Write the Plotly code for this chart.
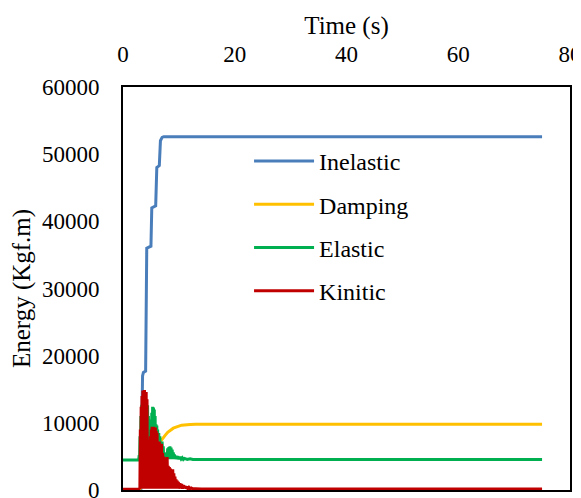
import plotly.graph_objects as go

# ---------------- data ----------------
inelastic_t = [0, 3.2, 3.5, 3.65, 4.05, 4.25, 5.0, 5.15, 5.85, 6.05, 6.5, 6.7, 7.0, 7.3, 75]
inelastic_v = [0, 0, 17000, 17500, 17700, 36000, 36300, 42000, 42300, 48000, 48300, 52000, 52500, 52600, 52600]

damping_t = [0, 2.9, 3.5, 4.0, 4.5, 5.0, 5.5, 6.0, 6.5, 7.0, 7.5, 8.0, 8.5, 9.0, 10.0, 10.5, 12.0, 13.0, 20.0, 75]
damping_v = [0, 0, 800, 1800, 3000, 4200, 5300, 6200, 7000, 7600, 8100, 8600, 8900, 9200, 9500, 9650, 9750, 9800, 9800, 9800]

elastic_t = [0, 2.8, 2.9, 2.97, 3.05, 3.12, 3.2, 3.27, 3.35, 3.42, 3.5, 3.57, 3.65, 3.72,
             3.8, 3.87, 3.95, 4.02, 4.1, 4.17, 4.25, 4.32, 4.4, 4.47, 4.55, 4.62, 4.7, 4.77,
             4.85, 4.92, 5.0, 5.07, 5.15, 5.22, 5.3, 5.37, 5.45, 5.52, 5.6, 5.67, 5.75, 5.82,
             5.9, 5.97, 6.05, 6.12, 6.2, 6.3, 6.4, 6.5, 6.6, 6.7, 6.8, 6.9, 7.0, 7.1, 7.2, 7.3,
             7.4, 7.5, 7.6, 7.7, 7.8, 7.9, 8.0, 8.1, 8.2, 8.3, 8.4, 8.5, 8.6, 8.7, 8.8, 8.9,
             9.0, 9.1, 9.2, 9.35, 9.5, 9.65, 9.8, 10.0, 10.2, 10.4, 10.6, 10.8, 11.0, 11.5,
             12.0, 12.5, 75]
elastic_v = [4450, 4450, 5200, 4500, 8000, 4600, 11000, 4600, 12700, 4600, 12000, 4600, 12600, 4600,
             11500, 4600, 12300, 4600, 11000, 4600, 12000, 4600, 12600, 4600, 11000, 4600, 10000, 4600,
             10500, 4600, 9800, 4600, 11500, 4600, 12400, 4600, 12300, 4600, 12000, 4600, 11000, 4600,
             9800, 4600, 9600, 4600, 9000, 4600, 8500, 4600, 8000, 4600, 7000, 4600, 7200, 4600, 6500, 4600,
             5500, 4600, 5200, 4600, 5600, 4600, 6200, 4600, 6400, 4600, 6500, 4600, 6300, 4600, 6000, 4600,
             5600, 4600, 5300, 4600, 5100, 4600, 5000, 4600, 4900, 4600, 4800, 4550, 4700, 4550,
             4650, 4550, 4550]

kinetic_t = [0, 2.85, 2.9, 2.95, 3.02, 3.1, 3.17, 3.25, 3.32, 3.4, 3.47, 3.55, 3.62, 3.7, 3.77,
             3.85, 3.92, 4.0, 4.07, 4.15, 4.22, 4.3, 4.37, 4.45, 4.52, 4.6, 4.67, 4.75, 4.82,
             4.9, 4.97, 5.05, 5.12, 5.2, 5.27, 5.35, 5.42, 5.5, 5.57, 5.65, 5.72, 5.8, 5.87,
             5.95, 6.02, 6.1, 6.2, 6.3, 6.4, 6.5, 6.6, 6.7, 6.8, 6.9, 7.0, 7.1, 7.2, 7.3, 7.4,
             7.5, 7.6, 7.7, 7.8, 7.9, 8.0, 8.1, 8.2, 8.3, 8.4, 8.5, 8.6, 8.7, 8.8, 8.9, 9.0,
             9.1, 9.2, 9.3, 9.4, 9.5, 9.6, 9.7, 9.8, 9.9, 10.05, 10.2, 10.35, 10.5, 10.65, 10.8,
             10.95, 11.1, 11.25, 11.4, 11.6, 11.8, 12.0, 12.2, 12.4, 12.6, 12.8, 13.0, 14.0, 75]
kinetic_v = [100, 100, 300, 3000, 200, 9000, 300, 12400, 200, 14000, 300, 14800, 200, 14500, 300,
             14900, 200, 14300, 300, 14600, 200, 13500, 300, 6000, 200, 7500, 300, 6800, 200,
             8000, 300, 9000, 200, 9400, 300, 9200, 200, 9400, 300, 9000, 200, 9300, 300,
             8800, 200, 8500, 300, 6800, 200, 7200, 300, 6500, 200, 6900, 300, 5500, 200, 5000, 300,
             4800, 200, 4600, 300, 4900, 200, 3600, 300, 3400, 200, 3200, 300, 2900, 200, 3100,
             300, 2500, 200, 2000, 300, 1600, 200, 1400, 300, 1200, 200, 1000, 300, 900, 200,
             700, 300, 600, 200, 500, 200, 400, 200, 300, 200, 250, 200, 200, 150, 150]

series_names = ["Inelastic", "Damping", "Elastic", "Kinitic"]
series_colors = ["#4a7ebb", "#ffc000", "#00b050", "#c00000"]

x_ticks = [0, 20, 40, 60, 80]
y_ticks = [0, 10000, 20000, 30000, 40000, 50000, 60000]

FONT = "Liberation Serif"

fig = go.Figure()
for name, color, t, v in zip(series_names, series_colors,
                             [inelastic_t, damping_t, elastic_t, kinetic_t],
                             [inelastic_v, damping_v, elastic_v, kinetic_v]):
    fig.add_trace(go.Scatter(x=t, y=v, mode="lines", name=name, legendgroup=name,
                             line=dict(color=color, width=3)))

fig.update_layout(
    width=573, height=490,
    margin=dict(l=115, r=11, t=79, b=8, autoexpand=False),
    paper_bgcolor="white", plot_bgcolor="white",
    font=dict(family=FONT, size=23, color="black"),
    showlegend=True,
    legend=dict(x=0.282, y=0.871, xanchor="left", yanchor="top",
                bgcolor="rgba(0,0,0,0)", font=dict(size=24, family=FONT, color="black"),
                tracegroupgap=9, itemwidth=60),
    xaxis=dict(range=[0, 80], side="top", tickvals=x_ticks, ticktext=[str(v) for v in x_ticks],
               tickfont=dict(size=23, family=FONT, color="black"), ticklabeloverflow="allow",
               showgrid=False, zeroline=False, showline=True, linecolor="black", linewidth=2,
               mirror=True, ticks="", ticklabelstandoff=14, automargin=False,
               title=dict(text="Time (s)", font=dict(size=25, family=FONT, color="black"), standoff=0)),
    yaxis=dict(range=[0, 60000], tickvals=y_ticks, ticktext=[str(v) for v in y_ticks],
               tickfont=dict(size=23, family=FONT, color="black"), ticklabeloverflow="allow",
               showgrid=False, zeroline=False, showline=True, linecolor="black", linewidth=2,
               mirror=True, ticks="", ticklabelstandoff=17, automargin=False,
               title=dict(text="Energy (Kgf.m)", font=dict(size=25, family=FONT, color="black"), standoff=12)),
)

fig.write_html("out.html")
